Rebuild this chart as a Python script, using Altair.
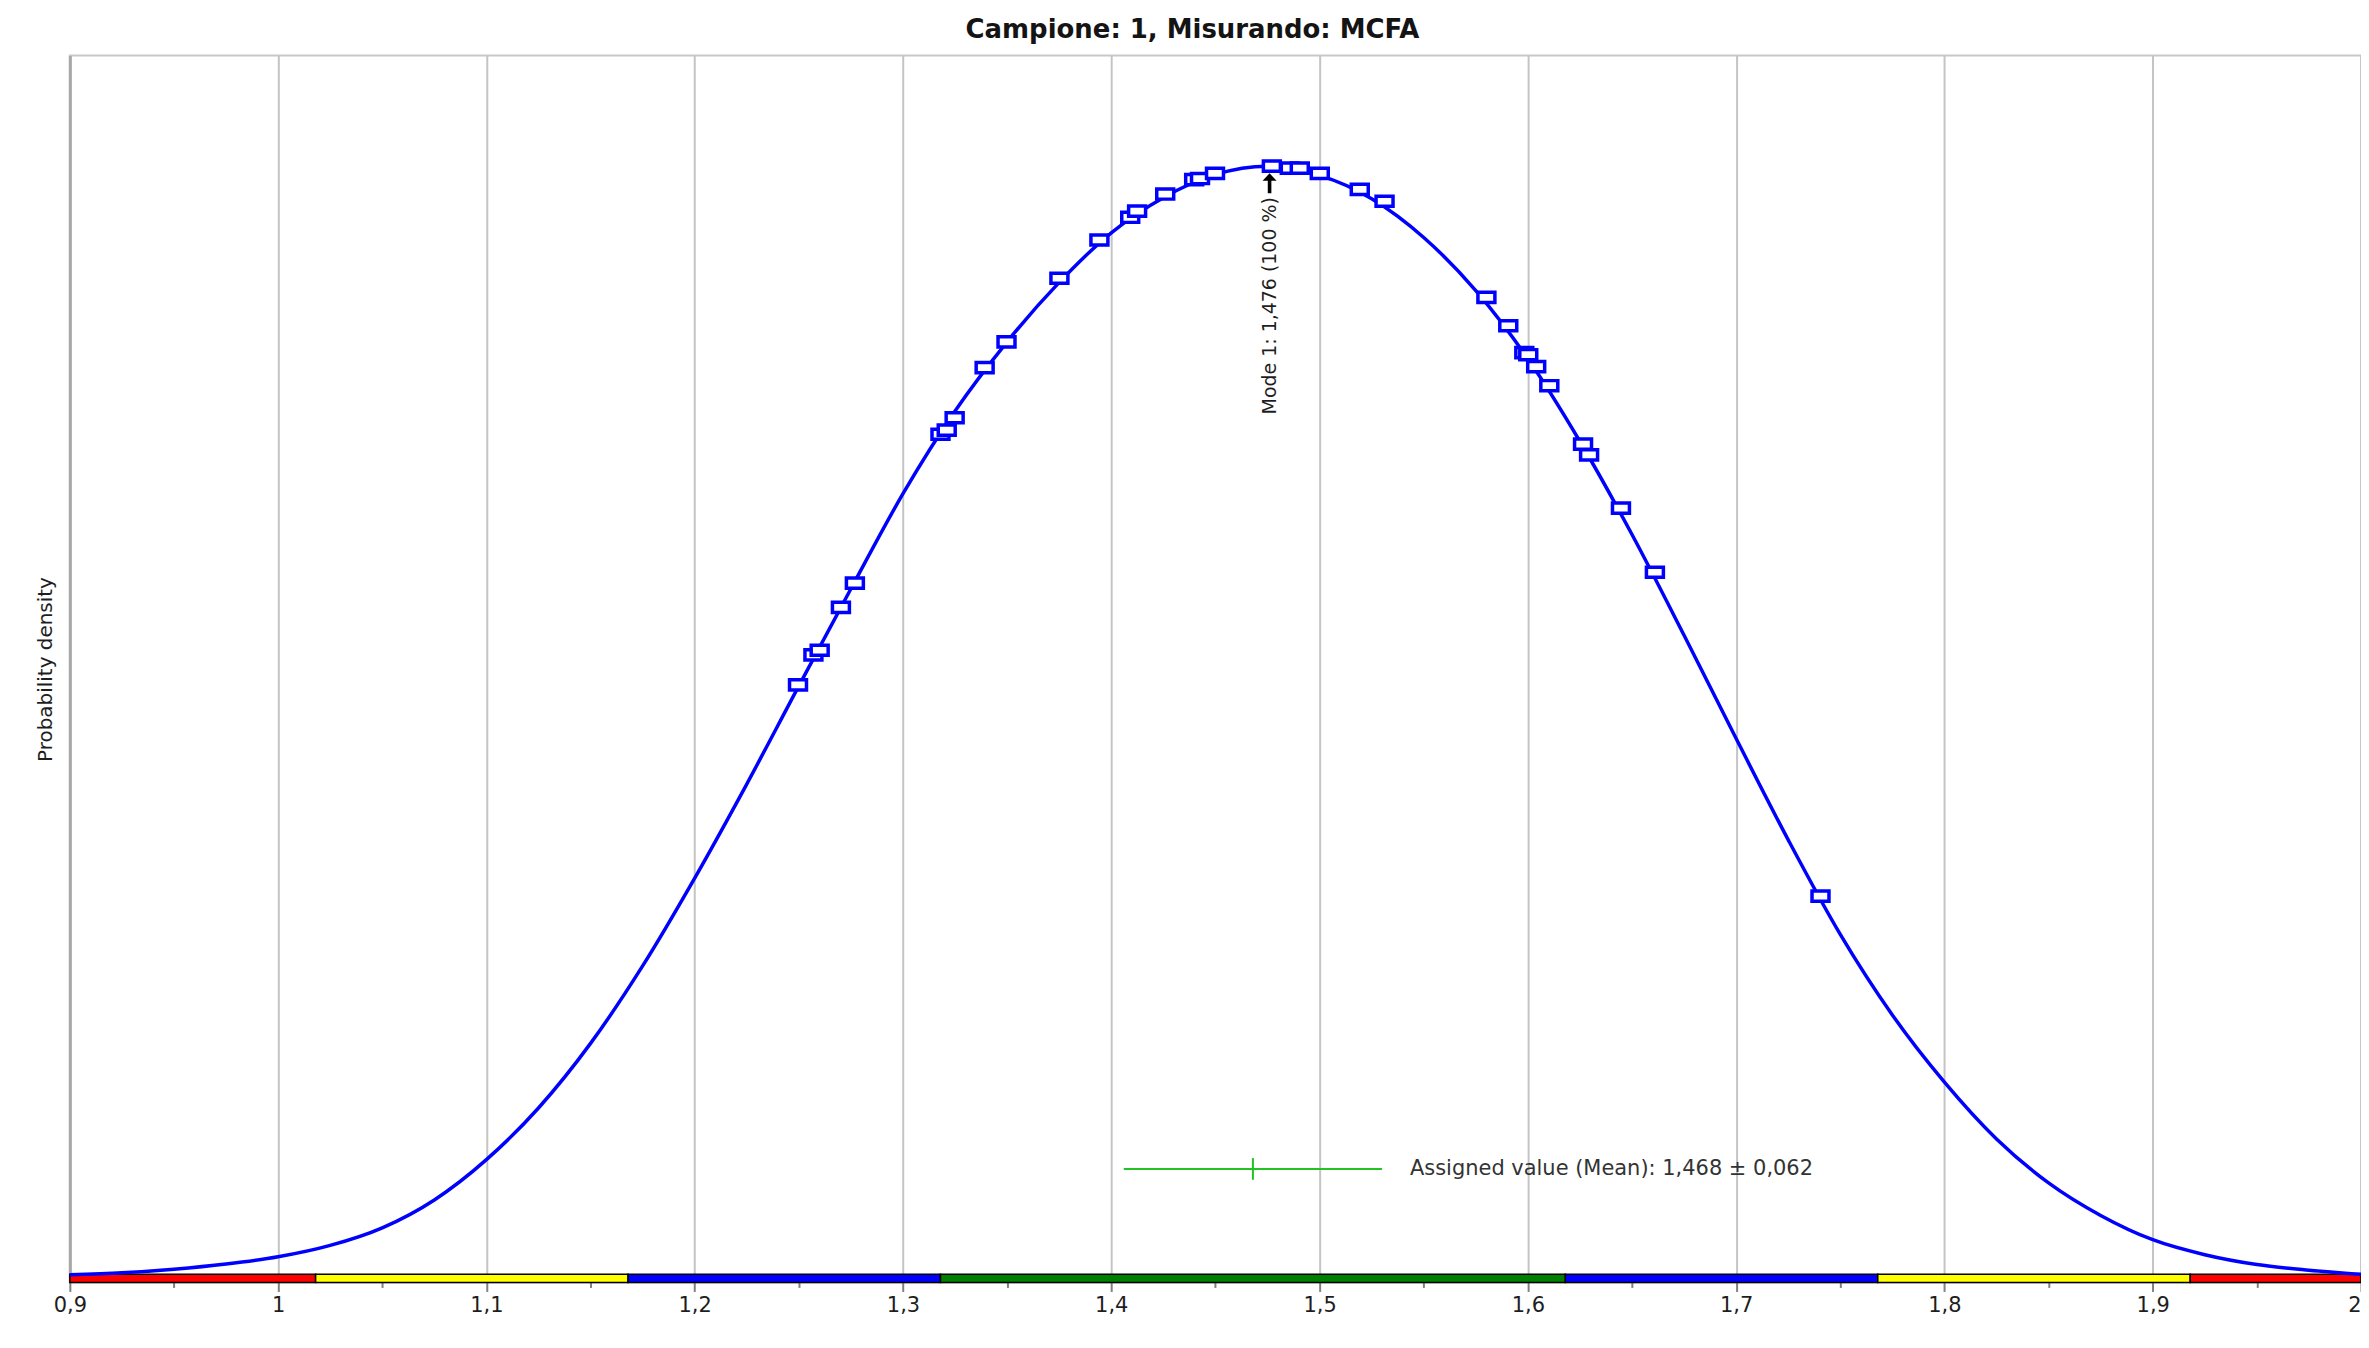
import altair as alt
import pandas as pd

# ---------------- data ----------------
title_text = "Campione: 1, Misurando: MCFA"

curve_x = [0.9, 0.925, 0.95, 0.975, 1.0, 1.025, 1.05, 1.075, 1.1, 1.125, 1.15, 1.175,
           1.2, 1.225, 1.25, 1.275, 1.3, 1.325, 1.35, 1.375, 1.4, 1.425, 1.45, 1.475,
           1.5, 1.525, 1.55, 1.575, 1.6, 1.625, 1.65, 1.675, 1.7, 1.725, 1.75, 1.775,
           1.8, 1.825, 1.85, 1.875, 1.9, 1.925, 1.95, 1.975, 2.0]
curve_y = [0.005, 0.009, 0.016, 0.026, 0.040, 0.062, 0.096, 0.150, 0.228, 0.328, 0.453, 0.603,
           0.773, 0.955, 1.145, 1.333, 1.517, 1.677, 1.811, 1.926, 2.022, 2.090, 2.135, 2.151,
           2.133, 2.088, 2.013, 1.910, 1.778, 1.618, 1.438, 1.243, 1.043, 0.847, 0.664, 0.508,
           0.378, 0.268, 0.183, 0.120, 0.073, 0.044, 0.025, 0.014, 0.006]

marker_x = [1.2496, 1.257, 1.260, 1.2702, 1.2769, 1.318, 1.321, 1.3248, 1.3392, 1.3497,
            1.3751, 1.3943, 1.4091, 1.4124, 1.4259, 1.4398, 1.4426, 1.4498, 1.4771, 1.4857,
            1.4905, 1.5001, 1.5193, 1.5312, 1.5801, 1.5906, 1.5983, 1.6002, 1.6040, 1.6103,
            1.6265, 1.6294, 1.6447, 1.6610, 1.7405]
marker_y = [1.147, 1.205, 1.214, 1.297, 1.344, 1.632, 1.640, 1.664, 1.761, 1.811,
            1.934, 2.008, 2.052, 2.064, 2.097, 2.125, 2.127, 2.137, 2.151, 2.147,
            2.147, 2.137, 2.106, 2.083, 1.897, 1.842, 1.790, 1.786, 1.763, 1.726,
            1.613, 1.592, 1.489, 1.365, 0.738]

band_start = [0.9, 1.018, 1.168, 1.318, 1.618, 1.768, 1.918]
band_end = [1.018, 1.168, 1.318, 1.618, 1.768, 1.918, 2.0]
band_color = ["#ff0000", "#ffff00", "#0000ff", "#008000", "#0000ff", "#ffff00", "#ff0000"]

x_ticks = [0.9, 0.95, 1.0, 1.05, 1.1, 1.15, 1.2, 1.25, 1.3, 1.35, 1.4, 1.45, 1.5,
           1.55, 1.6, 1.65, 1.7, 1.75, 1.8, 1.85, 1.9, 1.95, 2.0]

mode_value = 1.476
mode_arrow_y = 2.118
mode_label_y = 2.091

assigned_mean = 1.468
assigned_unc = 0.062
assigned_y = 0.21
assigned_tick_half = 0.021

Y_MIN = -0.0097
Y_MAX = 2.365
BAND_TOP = 0.006

FONT = "DejaVu Sans"
TEXT_COLOR = "#1e1e1e"

# ---------------- tables ----------------
curve_df = pd.DataFrame({"x": curve_x, "y": curve_y})
marker_df = pd.DataFrame({"x": marker_x, "y": marker_y})
band_df = pd.DataFrame({"x": band_start, "x2": band_end, "color": band_color,
                        "y": [Y_MIN] * len(band_start), "y2": [BAND_TOP] * len(band_start)})
mode_label = f"Mode 1: {mode_value:.3f} (100 %)".replace(".", ",")
mode_df = pd.DataFrame({"x": [mode_value], "y": [mode_label_y], "label": [mode_label]})
arrow_df = pd.DataFrame({"x": [mode_value], "y": [mode_arrow_y]})
assigned_label = f"Assigned value (Mean): {assigned_mean:.3f} ± {assigned_unc:.3f}".replace(".", ",")
assigned_df = pd.DataFrame({
    "x": [assigned_mean - assigned_unc], "x2": [assigned_mean + assigned_unc],
    "y": [assigned_y],
})
assigned_tick_df = pd.DataFrame({
    "x": [assigned_mean],
    "y": [assigned_y - assigned_tick_half], "y2": [assigned_y + assigned_tick_half],
})
assigned_text_df = pd.DataFrame({
    "x": [assigned_mean + assigned_unc], "y": [assigned_y], "label": [assigned_label],
})

x_scale = alt.Scale(domain=[0.9, 2.0], nice=False, zero=False)
y_scale = alt.Scale(domain=[Y_MIN, Y_MAX], nice=False, zero=False)

MAJOR = "abs(datum.value * 10 - round(datum.value * 10)) < 0.001"

x_axis = alt.Axis(
    values=x_ticks,
    labelExpr=f"({MAJOR}) ? replace(format(datum.value, '.1~f'), '.', ',') : ''",
    labelFlush=False,
    labelOverlap=False,
    labelFont=FONT,
    labelFontSize=21,
    labelColor=TEXT_COLOR,
    labelPadding=3,
    labelAlign={"condition": {"test": "datum.value >= 1.999", "value": "right"}, "value": "center"},
    grid=True,
    gridColor="#c4c4c4",
    gridWidth=2,
    gridOpacity={"condition": {"test": MAJOR, "value": 1}, "value": 0},
    tickColor="#808080",
    tickWidth=2,
    tickSize={"condition": {"test": MAJOR, "value": 9}, "value": 5},
    domain=False,
    title=None,
)

y_axis = alt.Axis(
    title="Probability density",
    titleFont=FONT,
    titleFontSize=20,
    titleFontWeight="normal",
    titleColor=TEXT_COLOR,
    titlePadding=14,
    labels=False,
    ticks=False,
    grid=False,
    domainColor="#a8a8a8",
    domainWidth=3,
)

X = alt.X("x:Q", scale=x_scale, axis=x_axis)
Y = alt.Y("y:Q", scale=y_scale, axis=y_axis)

band = alt.Chart(band_df).mark_rect(stroke="#000000", strokeWidth=1.5).encode(
    x=X, x2="x2:Q", y=Y, y2="y2:Q",
    color=alt.Color("color:N", scale=None),
)

curve = alt.Chart(curve_df).mark_line(color="#0000ff", strokeWidth=3.5, interpolate="monotone").encode(
    x=X, y=Y,
)

markers = alt.Chart(marker_df).mark_point(
    shape="M-1,-0.6H1V0.6H-1Z", size=289, filled=False, fill="#ffffff", fillOpacity=1,
    stroke="#0000ff", strokeWidth=3.5, opacity=1,
).encode(x=X, y=Y)

mode_arrow = alt.Chart(arrow_df).mark_point(
    shape="M0,-1L0.7,-0.25L0.18,-0.25L0.18,1L-0.18,1L-0.18,-0.25L-0.7,-0.25Z",
    size=400, filled=True, color="#000000", opacity=1,
).encode(x=X, y=Y)

mode_text = alt.Chart(mode_df).mark_text(
    angle=270, align="right", baseline="middle", font=FONT, fontSize=19, color=TEXT_COLOR,
).encode(x=X, y=Y, text="label:N")

assigned_line = alt.Chart(assigned_df).mark_rule(color="#22c322", strokeWidth=2).encode(
    x=X, x2="x2:Q", y=Y,
)

assigned_tick = alt.Chart(assigned_tick_df).mark_rule(color="#22c322", strokeWidth=2).encode(
    x=X, y=Y, y2="y2:Q",
)

assigned_text = alt.Chart(assigned_text_df).mark_text(
    align="left", baseline="middle", dx=28, font=FONT, fontSize=21, color="#333333",
).encode(x=X, y=Y, text="label:N")

chart = alt.layer(
    band, curve, assigned_line, assigned_tick, assigned_text, markers, mode_arrow, mode_text,
).properties(
    width=2297,
    height=1230,
    autosize=alt.AutoSizeParams(type="none"),
    padding={"left": 62, "top": 46, "right": 0, "bottom": 56},
    title=alt.TitleParams(
        text=title_text, font=FONT, fontSize=26, fontWeight="bold", color="#141414",
        anchor="middle", offset=13, dx=-23,
    ),
).configure_view(
    stroke="#c8c8c8", strokeWidth=2,
)

chart.save("out.html", embed_options={"renderer": "svg", "actions": False})
